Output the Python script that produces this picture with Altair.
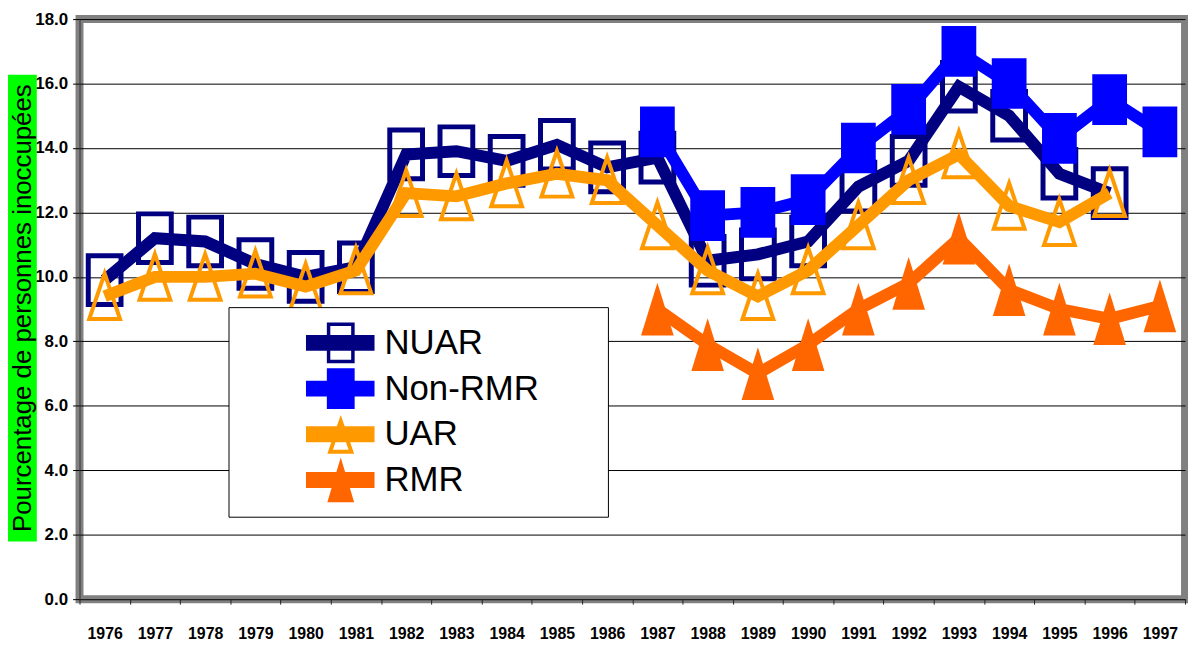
import math
import altair as alt
import pandas as pd

# ---------------- data ----------------
years = [str(y) for y in range(1976, 1998)]
series_names = ["NUAR", "Non-RMR", "UAR", "RMR"]
series_colors = ["#000080", "#0000FF", "#FF9900", "#FF6600"]

nuar = [9.9, 11.2, 11.1, 10.4, 10.0, 10.3, 13.8, 13.9, 13.6, 14.1, 13.4,
        13.7, 10.5, 10.7, 11.1, 12.8, 13.6, 15.9, 15.0, 13.2, 12.6, None]
non_rmr = [None] * 11 + [14.5, 11.9, 12.0, 12.4, 14.0, 15.2, 17.0, 16.0, 14.3, 15.5, 14.5]
uar = [9.4, 10.0, 10.0, 10.1, 9.7, 10.2, 12.6, 12.5, 12.9, 13.2, 13.0,
       11.6, 10.2, 9.4, 10.2, 11.6, 13.0, 13.8, 12.2, 11.7, 12.6, None]
rmr = [None] * 11 + [9.0, 7.9, 7.0, 7.9, 9.0, 9.8, 11.2, 9.6, 9.0, 8.7, 9.1]

y_ticks = [0, 2, 4, 6, 8, 10, 12, 14, 16, 18]
y_title = "Pourcentage de personnes inoccupées"

rows = []
for name, vals in zip(series_names, [nuar, non_rmr, uar, rmr]):
    for yr, v in zip(years, vals):
        if v is not None:
            rows.append({"year": yr, "value": v, "series": name})
df = pd.DataFrame(rows)

# ---------------- styling helpers ----------------
W, H = 1113, 584
FONT = "Liberation Sans, Arial, sans-serif"


def rect_path(hw):
    return f"M{-hw},-1L{hw},-1L{hw},1L{-hw},1Z"


def tri_path(hw):
    return f"M0,-1L{hw},1L{-hw},1Z"


# legend symbols: unit U px (symbol nominal box = 2U), built in px relative to symbol centre
U = 22.0


def f(x, y):
    return f"{x / U:.4f},{y / U:.4f}"


def rect_px(x0, y0, x1, y1, rev=False):
    if not rev:
        return f"M{f(x0, y0)}L{f(x1, y0)}L{f(x1, y1)}L{f(x0, y1)}Z"
    return f"M{f(x0, y0)}L{f(x0, y1)}L{f(x1, y1)}L{f(x1, y0)}Z"


def tri_px(cx, cy, w, h, rev=False):
    a, b, c = (cx, cy - h), (cx + w, cy + h), (cx - w, cy + h)
    if not rev:
        return f"M{f(*a)}L{f(*b)}L{f(*c)}Z"
    return f"M{f(*a)}L{f(*c)}L{f(*b)}Z"


def tri_ring_px(cx, cy, w, h, t):
    L = math.sqrt(w * w + 4 * h * h)
    r = 2 * w * h / (w + L)
    iy = cy + h - r
    k = (r - t) / r
    ax, ay = cx, iy + (cy - h - iy) * k
    bx, by = cx + w * k, iy + (cy + h - iy) * k
    cxx, cyy = cx - w * k, by
    inner = f"M{f(ax, ay)}L{f(cxx, cyy)}L{f(bx, by)}Z"
    return tri_px(cx, cy, w, h) + inner


# invisible zero-area point that widens the legend box to the right
right_anchor = f"M{f(331, 0)}L{f(331, 0)}Z"
bar = rect_px(42, -8, 111, 8)
MX = 77
leg_nuar = bar + rect_px(MX - 14, -20.5, MX + 14, 20.5) + rect_px(MX - 10.5, -17, MX + 10.5, 17, rev=True) + right_anchor
leg_nonrmr = bar + rect_px(MX - 14, -20.5, MX + 14, 20.5) + right_anchor
leg_uar = bar + tri_ring_px(MX, 0, 13.5, 19.5, 4) + right_anchor
leg_rmr = bar + tri_px(MX, 0, 13.5, 22.5) + right_anchor
legend_shapes = [leg_nuar, leg_nonrmr, leg_uar, leg_rmr]

# ---------------- chart ----------------
x_enc = alt.X(
    "year:O",
    scale=alt.Scale(type="band", domain=years, paddingInner=0, paddingOuter=0),
    axis=alt.Axis(title=None, tickBand="extent", labelAngle=0, labelFont=FONT,
                  labelFontSize=16, labelFontWeight="bold", labelColor="black",
                  labelPadding=22, tickSize=5, tickColor="#222222",
                  domainColor="#222222", labelOverlap=False, grid=False),
)
y_enc = alt.Y(
    "value:Q",
    scale=alt.Scale(domain=[0, 18], nice=False, zero=True),
    axis=alt.Axis(title=None, values=y_ticks, format=".1f", labelFont=FONT,
                  labelFontSize=17, labelFontWeight="bold", labelColor="black",
                  labelPadding=5, tickSize=7, tickColor="black", domainColor="#333333",
                  grid=True, gridColor="black", gridWidth=1),
)

base = alt.Chart(df)

green = alt.Chart(pd.DataFrame({"k": [0]})).mark_rect(color="#00FF00").encode(
    x=alt.value(-72), x2=alt.value(-43), y=alt.value(56), y2=alt.value(526)
)
title_txt = alt.Chart(pd.DataFrame({"t": [y_title]})).mark_text(
    angle=270, font=FONT, fontSize=26, color="black", align="center", baseline="middle"
).encode(text="t:N", x=alt.value(-57), y=alt.value(291))


def series_layers(name, color, shape, size, filled, sw):
    b = base.transform_filter(alt.datum.series == name)
    line = b.mark_line(color=color, strokeWidth=12).encode(x=x_enc, y=y_enc)
    if filled:
        pts = b.mark_point(shape=shape, size=size, filled=True, color=color,
                           opacity=1, strokeWidth=0).encode(x=x_enc, y=y_enc)
    else:
        pts = b.mark_point(shape=shape, size=size, filled=False, color=color,
                           opacity=1, strokeWidth=sw).encode(x=x_enc, y=y_enc)
    return [line, pts]


layers = [green, title_txt]
layers += series_layers("NUAR", series_colors[0], rect_path(0.673), 2401, False, 5)
layers += series_layers("Non-RMR", series_colors[1], rect_path(0.686), 2601, True, 0)
layers += series_layers("UAR", series_colors[2], tri_path(0.674), 2116, False, 4)
layers += series_layers("RMR", series_colors[3], tri_path(0.62), 2809, True, 0)

SYM = int(U * 2) ** 2
leg = alt.Legend(
    title=None, orient="none", legendX=150, legendY=290, fillColor="white",
    strokeColor="black", padding=14, rowPadding=3, labelOffset=99,
    symbolSize=SYM, symbolStrokeWidth=0, labelFont=FONT,
    labelFontSize=35, labelColor="black", labelLimit=600,
)
legend_layer = base.transform_filter("false").mark_point(
    filled=True, opacity=1, strokeWidth=0, size=SYM
).encode(
    color=alt.Color("series:N", scale=alt.Scale(domain=series_names, range=series_colors), legend=leg),
    shape=alt.Shape("series:N", scale=alt.Scale(domain=series_names, range=legend_shapes), legend=leg),
)
layers.append(legend_layer)

chart = alt.layer(*layers).properties(
    width=W, height=H,
    autosize=alt.AutoSizeParams(type="none"),
    padding={"left": 72, "top": 9, "right": 3, "bottom": 45},
    background="white",
).configure_view(stroke="#808080", strokeWidth=8)

chart.save("out.html", embed_options={"renderer": "svg", "actions": False})
